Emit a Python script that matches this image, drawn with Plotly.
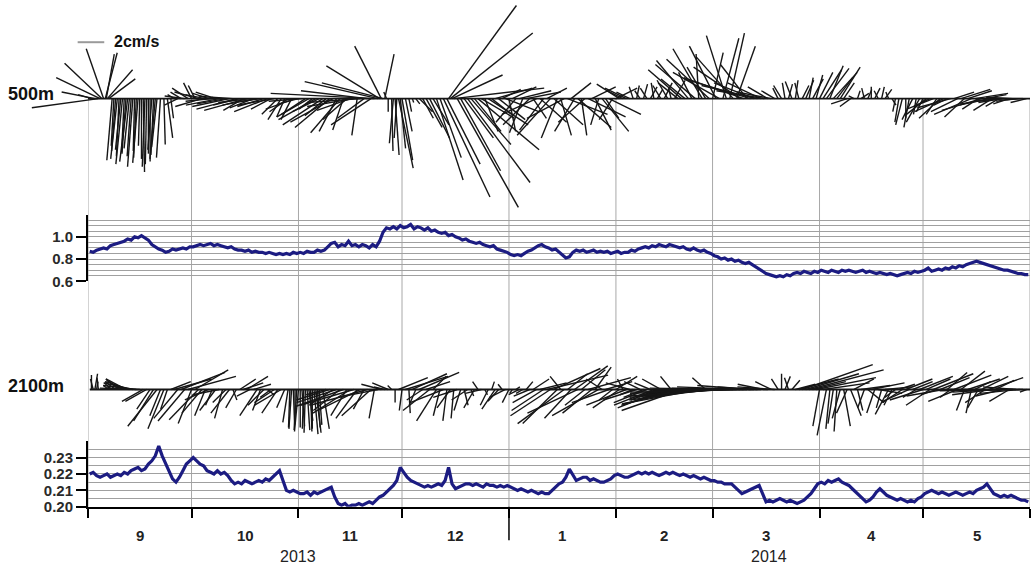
import plotly.graph_objects as go

# ---------------- layout constants (pixels) ----------------
W, H = 1032, 573
X0_PX, X1_PX = 88, 1030          # Sep 1 2013 .. Jun 1 2014
N_DAYS = 273
PX_PER_DAY = (X1_PX - X0_PX) / N_DAYS
PX_PER_CMS = 13.3                # 2 cm/s scale bar = 26.6 px
DAYS_PER_CMS = PX_PER_CMS / PX_PER_DAY

# ---------------- data ----------------
MONTH_STARTS = [0, 30, 61, 91, 122, 153, 181, 212, 242, 273]
MONTH_LABELS = ["9", "10", "11", "12", "1", "2", "3", "4", "5"]
YEAR_LABELS = ["2013", "2014"]
YEAR_SPANS = [(0, 122), (122, 273)]

TS1_TICKS = [0.6, 0.8, 1.0]
TS1_TICKTEXT = ["0.6", "0.8", "1.0"]
TS1_GRID = [0.60, 0.65, 0.70, 0.75, 0.80, 0.85, 0.90, 0.95, 1.00, 1.05, 1.10, 1.15]
TS2_TICKS = [0.20, 0.21, 0.22, 0.23]
TS2_TICKTEXT = ["0.20", "0.21", "0.22", "0.23"]
TS2_GRID = [0.200, 0.205, 0.210, 0.215, 0.220, 0.225, 0.230, 0.235]

# daily series (Sep 1 2013 .. May 31 2014)
TS1 = [
    0.87, 0.86, 0.88, 0.89, 0.90, 0.89, 0.92, 0.93, 0.94, 0.95,
    0.96, 0.98, 0.97, 1.00, 0.99, 1.01, 0.99, 0.97, 0.93, 0.91,
    0.89, 0.88, 0.86, 0.87, 0.89, 0.88, 0.89, 0.90, 0.89, 0.91,
    0.91, 0.92, 0.93, 0.92, 0.93, 0.94, 0.92, 0.93, 0.92, 0.91,
    0.90, 0.91, 0.89, 0.88, 0.88, 0.87, 0.88, 0.86, 0.87, 0.86,
    0.86, 0.85, 0.86, 0.85, 0.84, 0.85, 0.84, 0.85, 0.84, 0.86,
    0.85, 0.86, 0.85, 0.87, 0.86, 0.86, 0.88, 0.87, 0.88, 0.91,
    0.94, 0.95, 0.91, 0.93, 0.92, 0.96, 0.92, 0.93, 0.91, 0.93,
    0.92, 0.90, 0.93, 0.91, 0.96, 1.04, 1.08, 1.07, 1.09, 1.07,
    1.10, 1.08, 1.09, 1.11, 1.07, 1.09, 1.08, 1.06, 1.08, 1.05,
    1.06, 1.04, 1.03, 1.04, 1.01, 1.02, 1.00, 0.99, 0.97, 0.98,
    0.96, 0.95, 0.94, 0.95, 0.93, 0.92, 0.91, 0.92, 0.89, 0.88,
    0.87, 0.86, 0.84, 0.83, 0.84, 0.83, 0.85, 0.87, 0.88, 0.90,
    0.92, 0.93, 0.91, 0.90, 0.88, 0.89, 0.86, 0.83, 0.81, 0.82,
    0.86, 0.88, 0.87, 0.88, 0.86, 0.87, 0.88, 0.86, 0.87, 0.86,
    0.87, 0.85, 0.86, 0.87, 0.85, 0.86, 0.86, 0.88, 0.87, 0.89,
    0.90, 0.91, 0.90, 0.92, 0.91, 0.93, 0.92, 0.91, 0.93, 0.92,
    0.91, 0.90, 0.91, 0.89, 0.88, 0.90, 0.88, 0.87, 0.88, 0.86,
    0.85, 0.83, 0.82, 0.80, 0.81, 0.79, 0.80, 0.78, 0.79, 0.77,
    0.76, 0.77, 0.75, 0.73, 0.71, 0.69, 0.67, 0.66, 0.65, 0.64,
    0.65, 0.64, 0.66, 0.65, 0.67, 0.68, 0.67, 0.69, 0.68, 0.67,
    0.69, 0.68, 0.70, 0.69, 0.68, 0.70, 0.69, 0.68, 0.70, 0.69,
    0.70, 0.69, 0.68, 0.69, 0.70, 0.68, 0.69, 0.68, 0.67, 0.68,
    0.67, 0.66, 0.67, 0.66, 0.65, 0.66, 0.67, 0.68, 0.67, 0.69,
    0.68, 0.69, 0.70, 0.72, 0.69, 0.70, 0.71, 0.70, 0.72, 0.71,
    0.73, 0.72, 0.74, 0.73, 0.75, 0.76, 0.77, 0.78, 0.77, 0.76,
    0.75, 0.74, 0.73, 0.72, 0.71, 0.70, 0.70, 0.69, 0.68, 0.67,
    0.67, 0.66, 0.66,
]

TS2 = [
    0.220, 0.221, 0.219, 0.218, 0.219, 0.220, 0.218, 0.219, 0.220, 0.219,
    0.221, 0.220, 0.222, 0.223, 0.224, 0.222, 0.223, 0.226, 0.228, 0.231,
    0.237, 0.231, 0.226, 0.221, 0.217, 0.215, 0.218, 0.222, 0.226, 0.228,
    0.230, 0.228, 0.226, 0.225, 0.222, 0.221, 0.220, 0.222, 0.220, 0.221,
    0.219, 0.216, 0.214, 0.215, 0.214, 0.216, 0.215, 0.214, 0.215, 0.216,
    0.215, 0.217, 0.216, 0.218, 0.220, 0.222, 0.216, 0.210, 0.209, 0.210,
    0.209, 0.208, 0.208, 0.209, 0.207, 0.209, 0.208, 0.209, 0.210, 0.211,
    0.212, 0.206, 0.202, 0.201, 0.202, 0.200, 0.201, 0.201, 0.202, 0.201,
    0.202, 0.203, 0.202, 0.204, 0.206, 0.207, 0.209, 0.211, 0.213, 0.216,
    0.224, 0.221, 0.218, 0.216, 0.215, 0.214, 0.213, 0.212, 0.213, 0.212,
    0.213, 0.214, 0.213, 0.216, 0.224, 0.214, 0.211, 0.212, 0.213, 0.214,
    0.214, 0.213, 0.214, 0.213, 0.212, 0.214, 0.213, 0.213, 0.212, 0.213,
    0.212, 0.213, 0.212, 0.211, 0.210, 0.211, 0.210, 0.209, 0.210, 0.209,
    0.208, 0.209, 0.208, 0.208, 0.210, 0.212, 0.214, 0.215, 0.218, 0.223,
    0.219, 0.216, 0.217, 0.218, 0.218, 0.216, 0.217, 0.216, 0.215, 0.215,
    0.216, 0.217, 0.219, 0.220, 0.219, 0.218, 0.218, 0.219, 0.220, 0.221,
    0.220, 0.221, 0.220, 0.221, 0.220, 0.219, 0.220, 0.221, 0.220, 0.221,
    0.220, 0.219, 0.220, 0.219, 0.218, 0.219, 0.218, 0.217, 0.218, 0.217,
    0.216, 0.216, 0.215, 0.215, 0.214, 0.214, 0.214, 0.212, 0.210, 0.208,
    0.209, 0.210, 0.211, 0.212, 0.213, 0.208, 0.203, 0.204, 0.203, 0.204,
    0.205, 0.204, 0.203, 0.204, 0.203, 0.202, 0.203, 0.204, 0.206, 0.208,
    0.211, 0.214, 0.215, 0.214, 0.216, 0.215, 0.216, 0.217, 0.215, 0.214,
    0.213, 0.211, 0.209, 0.207, 0.205, 0.203, 0.204, 0.206, 0.209, 0.211,
    0.209, 0.207, 0.206, 0.205, 0.204, 0.205, 0.204, 0.203, 0.204, 0.203,
    0.205, 0.206, 0.208, 0.209, 0.210, 0.209, 0.208, 0.209, 0.208, 0.207,
    0.208, 0.209, 0.208, 0.207, 0.208, 0.209, 0.208, 0.210, 0.211, 0.212,
    0.214, 0.211, 0.208, 0.207, 0.206, 0.207, 0.206, 0.207, 0.206, 0.205,
    0.204, 0.204, 0.203,
]

# current sticks: (day since Sep 1 2013, u east cm/s, v north cm/s)
STICKS_500 = [
    (1.0, -1.0, 0.3), (2.0, -2.5, 0.5), (3.0, -5.0, -0.7), (3.5, -3.3, 1.6), (4.0, -2.8, 2.7),
    (4.5, -1.3, 3.8), (5.0, 0.9, 3.5), (5.3, 0.6, 3.4), (5.6, 1.9, 2.2), (6.0, 2.0, 1.5),
    (7, -0.4, -4.7), (7.5, -0.2, -3.6), (8, -0.3, -4.0), (8.5, -0.5, -4.6), (9, -0.2, -4.4),
    (9.5, -0.4, -3.9), (10, -0.5, -5.0), (10.5, -0.2, -4.1), (11, -0.3, -4.2), (11.5, -0.6, -4.8),
    (12, -0.4, -3.8), (12.5, -0.3, -4.4), (13, -0.4, -5.2), (13.5, -0.1, -4.0), (14, -0.2, -4.5),
    (14.5, -0.4, -4.9), (15, -0.1, -3.6), (15.5, 0.0, -4.6), (16, 0.1, -5.6), (16.5, -0.2, -5.2),
    (17, -0.1, -5.0), (17.5, 0.0, -4.2), (18, 0.0, -4.8), (18.5, -0.3, -3.9), (19, -0.2, -4.3),
    (19.5, -0.4, -4.6), (20, -0.4, -3.7), (21, -0.3, -4.5), (22, 0.1, -3.5), (23, 0.4, -3.0),
    (24, 0.2, -1.5),
    (25, -0.5, 0.3), (26, -1.0, -0.5), (27, -0.8, 0.5), (28, -1.5, 0.2), (29, -1.2, 0.8),
    (30, -0.6, 1.2), (31, -0.5, 1.0), (32, -1.8, 0.5), (33, -2.0, -0.6), (34, -1.5, 0.3),
    (35, -1.2, 0.4), (36, -2.0, -0.2), (37, -1.5, 0.5), (38, -2.5, -0.5), (39, -1.8, 0.2),
    (40, -2.2, -0.4), (41, -2.8, -0.6), (42, -1.6, 0.1), (43, -3.0, -0.8), (44, -2.0, -0.5),
    (45, -1.5, -0.9), (46, -3.2, -0.9), (47, -2.4, -0.3), (48, -1.8, -0.7), (49, -2.6, -0.5),
    (50, -1.4, -0.2), (51, -2.0, -0.6), (52, -2.5, -1.0), (53, -1.5, -0.8), (54, -2.8, -0.5),
    (55, -1.2, -1.2), (56, -1.0, -1.6), (57, -0.6, -1.4), (58, -1.4, -1.0), (59, -0.8, -1.6),
    (60, -2.2, -0.8), (61, -1.5, -0.4), (62, -2.5, -0.2),
    (63, -1.8, -1.2), (64, -2.4, -1.4), (65, -1.0, -0.8), (66, -2.8, -1.6), (67, -2.0, -1.0),
    (68, -3.0, -2.0), (69, -1.6, -1.3), (70, -2.6, -2.2), (71, -3.2, -1.8), (72, -1.3, -2.5),
    (73, -2.2, -2.6), (74, -0.8, -2.4), (75, -1.8, -1.6), (76, -2.5, -0.9), (77, -3.5, -0.6),
    (78, -0.4, -2.8),
    (79, -4.0, -0.3), (80, -2.0, -1.5), (81, -5.0, 0.6), (82, -3.0, -2.0), (83, -7.8, 0.4),
    (84, -5.5, 1.3), (84.5, -4.0, 2.5), (85, -2.0, 4.0), (85.5, -4.6, 1.2), (86, 0.7, 3.4),
    (86.5, -0.2, 0.5),
    (87, 0.0, -1.0), (88, 0.1, -4.0), (88.5, -0.3, -3.4), (89, 0.3, -4.3), (89.5, -0.2, -3.0),
    (90, 1.1, -5.3), (90.5, 0.4, -3.8), (91, 0.8, -4.7), (92, 0.5, -2.5), (93, 0.2, -1.0),
    (94, 0.1, -0.3), (95, 0.3, -0.4), (96, 1.0, -1.0),
    (97, 0.8, -1.5), (98, 1.2, -2.2), (99, 1.5, -3.0), (100, 1.2, -2.0), (101, 2.0, -6.2),
    (102, 1.6, -4.5), (103, 3.5, -7.5), (104, 2.5, -5.0), (104.5, 5.1, 7.1), (105, 6.2, 5.0),
    (105.5, 3.8, 1.8), (106, 6.8, 0.8), (107, 4.6, -8.3), (108, 3.0, -5.5), (109, 2.2, -3.0),
    (110, 4.7, -6.4), (111, 3.0, -3.5), (112, 2.0, -2.5), (113, 4.6, -3.9), (114, 2.5, -1.5),
    (115, 1.0, -2.5), (116, 3.0, -2.0), (117, 1.5, -1.2), (118, 2.8, 0.8),
    (119, 2.0, -1.6), (120, 1.4, 0.7), (121, 2.5, -1.0), (122, 0.5, -2.5), (123, 1.8, 0.9),
    (124, -1.5, -1.8), (125, 2.4, 0.6), (126, -1.0, -2.6), (127, 2.6, 0.5), (128, -2.0, -2.0),
    (129, 1.0, -1.5), (130, -2.6, -1.2), (131, 2.0, -1.8), (132, -1.8, -2.4),
    (133, 1.5, 0.8), (134, -2.5, -2.8), (135, 2.2, -2.0), (136, -1.2, -3.0), (137, 0.8, -2.8),
    (138, -2.8, -1.5), (139, 3.0, -1.2), (140, 1.5, 1.2), (141, -1.5, -2.5), (142, 2.5, -2.2),
    (143, 0.4, -2.8), (144, -2.0, -1.8), (145, 2.8, -1.4), (146, 1.8, 0.9), (147, 1.2, -2.4),
    (148, -0.6, -2.0), (149, 2.0, -2.5), (150, 1.0, -1.5), (151, 2.4, -1.2), (152, -1.0, -1.6),
    (153, 1.6, 0.8), (154, -1.7, 1.1), (155, -1.2, 0.6),
    (156, -1.6, 0.8), (157, -1.0, 0.5), (158, -0.3, 0.9), (159, 0.2, 1.0), (160, -0.4, 0.6),
    (161, 0.3, 1.1), (162, -0.5, 0.8), (163, 0.5, 0.9), (164, -0.2, 1.2), (165, 0.4, 0.7),
    (166, -0.6, 1.0), (167, 0.6, 1.2), (168, -0.8, 1.4), (169, -0.2, 0.8), (170, 0.8, 1.4),
    (171, -1.5, 1.2), (172, -2.5, 2.2), (173, -1.8, 1.5), (174, -2.4, 2.9), (175, -1.0, 2.0),
    (176, -3.0, 2.6), (177, -0.2, 3.4), (178, -2.2, 3.8), (179, -1.4, 2.4), (180, -3.2, 3.0),
    (181, 0.8, 3.5), (182, -2.0, 4.0), (183, -3.5, 2.0), (184, 1.2, 4.6), (185, -1.5, 4.8),
    (186, 1.1, 5.0), (187, -2.8, 3.2), (188, 1.4, 4.0), (189, -3.5, 2.4), (190, -4.5, 1.6),
    (191, -2.0, 2.6), (192, -5.0, 1.5), (193, -3.0, 1.2), (194, -4.2, 1.0), (195, -2.5, 1.2),
    (196, -3.6, 0.6), (197, -1.5, 0.9), (198, -2.6, 0.5), (199, -1.0, 0.6), (200, -0.4, 0.8),
    (201, -0.6, 1.0), (202, -0.2, 1.2), (203, 0.3, 1.1), (204, -0.5, 1.3), (205, 0.2, 1.4),
    (206, -0.3, 1.2), (207, 0.5, 1.0), (208, 0.6, 1.4), (209, 0.3, 1.6), (210, 0.8, 1.5),
    (211, 0.5, 1.8), (212, 1.0, 2.0),
    (213, 1.4, 2.2), (214, 1.7, 2.3), (215, 1.0, 2.5), (216, 1.8, 2.0), (217, 1.2, 1.6),
    (218, 1.5, 2.4), (219, 0.8, 1.2), (220, -1.2, -0.4), (221, -0.8, -0.6), (222, -0.4, 0.2),
    (223, 0.2, 0.6), (224, 0.6, 0.4), (225, -0.2, 0.8), (226, 0.3, 0.7), (227, 0.0, 0.9),
    (228, 0.4, 0.8), (229, -0.3, 0.6), (230, 0.2, 0.9), (231, 0.5, 0.7), (232, -0.2, 0.5),
    (233, 0.3, -0.5), (234, -0.2, -1.0),
    (235, -0.3, -1.8), (236, -0.5, -2.0), (237, 0.0, -1.5), (238, -0.4, -2.2), (239, -0.8, -1.6),
    (240, -0.2, -1.2), (241, -1.0, -1.8), (242, -0.5, -1.0), (243, -1.5, -1.2), (244, -1.2, -0.6),
    (245, -2.0, -0.8), (246, -0.8, -1.2), (247, -1.6, -1.5), (248, -2.2, -1.0), (249, -1.0, -0.5),
    (250, -2.5, -0.7),
    (251, 1.5, 0.5), (252, -2.0, -1.0), (253, 2.2, 0.7), (254, -1.5, -1.4), (255, 1.8, 0.6),
    (256, -2.8, -1.2), (257, 2.5, 0.4), (258, -1.2, -0.8), (259, -3.0, -0.9), (260, 1.6, 0.3),
    (261, -2.2, -0.5), (262, -1.4, -0.9), (263, -2.6, -0.4), (264, -1.0, -0.6), (265, -1.8, -0.3),
    (266, -2.4, -0.2), (267, -1.2, -0.4), (268, -2.0, 0.1), (269, -1.5, -0.2), (270, -1.0, -0.1),
    (271, -1.8, 0.0), (272, -1.2, -0.3),
]

STICKS_2100 = [
    (1.0, 0.0, 1.1), (1.5, -0.2, 0.8), (2.0, 0.2, 1.2), (2.5, 0.1, 0.6), (3.0, -0.1, 0.9),
    (5, 0.3, 0.2), (6, -0.4, 0.3), (7, -0.6, 0.5), (8, -0.8, 0.6), (9, -1.0, 0.8),
    (10, -1.2, 0.7), (11, -1.5, 0.8), (12, -1.8, 0.6), (13, -2.2, 0.5), (14, -2.5, 0.3),
    (15, -3.0, 0.1), (16, -1.6, -0.9), (17, -1.6, -0.9), (18, -1.0, -1.5),
    (19, -1.5, -2.4), (20, -2.2, -2.8), (21, -0.8, -2.0), (22, -1.2, -3.0), (23, -0.5, -1.5),
    (24, 1.5, 0.6), (25, 2.8, 0.8), (26, -1.8, -2.2), (27, 3.3, 1.3), (28, -2.0, -2.4),
    (29, 3.6, 1.0), (30, -1.0, -2.6), (31, 2.5, 1.5), (32, -2.2, -2.3),
    (33, -1.5, -1.8), (34, -0.8, -2.0), (35, -1.8, -0.8), (36, -0.5, -1.2), (37, -1.2, -1.6),
    (38, -2.0, -0.4), (39, -0.6, -2.2), (40, -1.0, -1.0), (41, -1.4, -1.8), (42, 0.3, -0.8),
    (43, -0.8, -1.4), (44, 1.2, 0.8), (45, 1.5, 0.5),
    (46, 1.6, 1.0), (47, -1.0, -0.5), (48, 1.3, 0.4), (49, -1.3, -2.0), (50, -0.6, -1.6),
    (51, -1.2, -1.2), (52, 0.5, -0.4),
    (53, -0.8, -0.6), (54, -1.5, -1.0), (55, -1.2, -1.8), (56, -2.0, -1.2), (57, -0.6, -1.4),
    (58, -0.4, -2.5), (58.5, -0.1, -2.9), (59, -0.2, -3.0), (59.5, 0.1, -2.7), (60, 0.0, -2.6),
    (60.5, -0.2, -3.1), (61, -0.3, -3.2), (61.5, 0.0, -2.9), (62, 0.2, -2.8), (62.5, -0.1, -3.0),
    (63, -0.1, -3.3), (63.5, 0.2, -3.1), (64, 0.3, -2.4), (64.5, 0.1, -3.2), (65, 0.0, -3.0),
    (65.5, 0.3, -3.4), (66, 0.4, -3.3), (66.5, 0.2, -2.9), (67, 0.2, -2.7), (68, 0.5, -3.0),
    (69, -1.5, -0.4), (70, -2.5, -0.8), (71, -1.8, -1.2), (72, -3.0, -1.0), (73, -2.0, -1.6),
    (74, -3.6, -1.3), (75, -1.2, -2.0), (76, -2.8, -1.8), (77, -4.0, -1.2), (78, -1.6, -2.2),
    (79, -3.2, -1.6), (80, -0.8, -1.5), (81, -4.3, -1.2), (82, -2.2, -2.0), (83, -0.4, -2.2),
    (84, -3.0, -0.6), (85, -1.5, 0.4), (86, -0.8, 0.2),
    (87, -1.2, 0.5), (88, -0.3, 0.3), (89, 0.0, -1.0), (90, 2.2, 0.9), (91, -0.2, -1.6),
    (92, 3.2, 1.0), (93, 0.1, -1.8), (94, 2.6, 1.2), (95, -0.5, -1.2), (96, 3.0, 1.3),
    (97, -1.2, -0.8), (98, 1.8, 0.6), (99, -2.0, -1.6), (100, 1.0, 1.0),
    (101, -1.5, -2.4), (102, -0.5, -2.0), (103, -2.5, -1.0), (104, -0.3, -2.4), (105, -1.0, -1.4),
    (106, -0.2, -2.2), (107, -1.8, -0.6), (108, -0.5, -1.6), (109, 0.3, -1.2), (110, -1.2, -0.8),
    (111, 0.2, -0.5), (112, -0.8, -1.4), (113, -0.4, 0.6), (114, -1.2, -0.3), (115, 0.2, -0.4),
    (116, -0.6, -1.2), (117, 0.2, 0.6), (118, -1.0, -1.5), (119, -0.8, -0.9), (120, -0.3, 0.4),
    (121, -1.2, -0.6), (122, -0.5, -1.0), (123, -0.2, -0.3), (124, 0.3, 0.2), (125, -0.8, -0.4),
    (126, -0.5, -0.3), (127, 0.5, 0.6), (128, -1.2, -0.5), (129, 1.2, 0.8), (130, -1.8, -1.0),
    (131, 2.0, 0.5), (132, -2.4, -1.6), (133, 4.6, 1.1), (134, -3.0, -2.0), (135, 3.5, 1.6),
    (136, -2.6, -2.6), (137, -0.8, 1.0), (138, -3.5, -2.6), (139, 1.5, 1.2), (140, -2.0, -2.2),
    (141, 2.5, 1.8), (142, -3.8, -1.8), (143, 1.8, 1.5), (144, -1.5, -1.2), (145, 3.2, 0.9),
    (146, -2.2, -1.8), (147, 1.2, 1.7), (148, -3.5, -2.0), (149, -1.2, 0.8), (150, 2.0, 0.6),
    (151, -2.8, -1.0), (152, -1.0, -0.8), (153, 1.6, 1.0), (154, -2.0, -1.4), (155, -0.4, 0.8),
    (156, -3.0, -1.2), (157, -1.8, 0.5), (158, -1.0, -0.4), (159, -2.5, -0.8), (160, -1.2, 0.6),
    (161, -1.5, -0.6), (162, -2.5, -1.0), (163, -1.2, 0.5), (164, -3.0, -1.2), (165, -2.0, -0.8),
    (166, -1.4, 0.8), (167, -3.5, -1.4), (168, -2.2, -0.6), (169, -0.8, 1.0), (170, -4.0, -1.2),
    (171, -2.8, -0.5), (172, -4.5, -1.6), (173, -3.2, -0.4), (174, -5.0, -1.1), (175, -3.6, -0.6),
    (176, -2.0, -0.3), (177, -5.7, -1.1), (178, -4.2, -0.5), (179, -1.0, 0.9), (180, -6.0, -0.8),
    (181, -4.8, -0.3), (182, -6.5, -0.6), (183, -3.5, -0.2), (184, -7.0, -0.5), (185, -5.5, -0.1),
    (186, -7.5, -0.3), (187, -6.0, 0.0), (188, -8.0, -0.2), (189, -6.8, 0.1), (190, -5.0, 0.2),
    (191, -7.2, 0.0), (192, -4.0, 0.3), (193, -6.2, 0.1), (194, -3.0, 0.2), (195, -5.2, 0.0),
    (196, -2.0, 0.4), (197, -4.0, 0.1), (198, -1.2, 0.6), (199, -2.8, 0.2),
    (200, -0.5, 0.8), (201, 0.0, 1.2), (202, 0.4, 1.0), (203, -0.3, 0.9), (204, 0.6, 0.7),
    (205, 1.5, 0.4), (206, 3.0, 0.8), (207, 5.3, 1.9), (208, 4.0, 1.2), (209, 5.6, 1.5),
    (210, 2.5, 0.6), (211, 4.5, 0.9), (212, -0.5, -2.8), (213, 3.5, 0.5), (214, -0.7, -3.5),
    (215, -0.3, -3.0),
    (216, -0.4, -2.6), (217, -0.2, -3.2), (218, -0.6, -2.2), (219, 0.5, -2.8), (220, -0.8, -1.8),
    (221, 0.8, -2.0), (222, 1.5, 0.8), (223, 0.4, -1.6), (224, 2.2, 0.3), (225, -0.5, -1.4),
    (226, 1.2, -1.0), (227, 2.5, 0.5), (228, -0.6, -1.8), (229, 1.8, -0.3), (230, -0.4, -1.4),
    (231, 2.0, 0.2), (232, -1.0, -1.9), (233, -0.6, -1.2),
    (234, -0.8, -0.6), (235, 1.2, 0.4), (236, -1.5, -1.0), (237, 2.0, 0.8), (238, -2.0, -0.9),
    (239, 1.5, 0.6), (240, -1.0, -0.6), (241, 2.5, 1.0), (242, -2.5, -0.8), (243, 1.8, 0.8),
    (244, -1.8, -1.2), (245, 3.0, 1.2), (246, -1.2, -0.4), (247, 2.2, 0.9), (248, -2.8, -0.5),
    (249, 1.5, 1.3), (250, -0.8, -0.6), (251, 2.8, 1.1), (252, -2.2, -0.9), (253, 1.8, 1.4),
    (254, -0.6, -1.6), (255, 2.4, 0.8), (256, -0.4, -1.8), (257, 1.2, 0.6), (258, -0.8, -1.4),
    (259, 2.0, 1.0), (260, -1.5, -1.0), (261, 2.6, 0.9), (262, -3.0, -0.4), (263, 1.4, 0.7),
    (264, -3.5, -0.2), (265, -2.0, -0.5), (266, -4.5, 0.0), (267, -1.5, -0.9), (268, -5.5, -0.1),
    (269, -2.5, 0.2), (270, -3.0, -0.3), (271, -1.0, 0.0), (272, -0.5, -0.2),
]

SCALE_BAR_CMS = 2.0

# ---------------- helpers ----------------
def py(px):
    return 1 - px / H

def px_x(px):
    return px / W

def stick_xy(sticks):
    xs, ys = [], []
    for t, u, v in sticks:
        xs += [t, t + u * DAYS_PER_CMS, None]
        ys += [0, v, None]
    return xs, ys

FONT = "Liberation Sans, Arial, Helvetica, sans-serif"
STICK_COLOR = "#161616"
LINE_COLOR = "#1c1c82"
GRID_COLOR = "#a0a0a0"

fig = go.Figure()

# sticks 500 m
sx, sy = stick_xy(STICKS_500)
fig.add_trace(go.Scatter(x=sx, y=sy, mode="lines", xaxis="x2", yaxis="y",
                         line=dict(color=STICK_COLOR, width=1.4), hoverinfo="skip", showlegend=False))
fig.add_trace(go.Scatter(x=[0, N_DAYS], y=[0, 0], mode="lines", xaxis="x2", yaxis="y",
                         line=dict(color=STICK_COLOR, width=1.8), hoverinfo="skip", showlegend=False))
# scale bar
fig.add_trace(go.Scatter(x=[-3.0, -3.0 + SCALE_BAR_CMS * DAYS_PER_CMS], y=[4.3, 4.3], mode="lines",
                         xaxis="x2", yaxis="y", line=dict(color="#9a9a9a", width=2),
                         hoverinfo="skip", showlegend=False))

# sticks 2100 m
sx, sy = stick_xy(STICKS_2100)
fig.add_trace(go.Scatter(x=sx, y=sy, mode="lines", xaxis="x3", yaxis="y2",
                         line=dict(color=STICK_COLOR, width=1.4), hoverinfo="skip", showlegend=False))
fig.add_trace(go.Scatter(x=[0.5, N_DAYS], y=[0, 0], mode="lines", xaxis="x3", yaxis="y2",
                         line=dict(color=STICK_COLOR, width=1.8), hoverinfo="skip", showlegend=False))

# time series
days = [i + 0.5 for i in range(len(TS1))]
fig.add_trace(go.Scatter(x=days, y=TS1, mode="lines", xaxis="x", yaxis="y3",
                         line=dict(color=LINE_COLOR, width=3.2), hoverinfo="skip", showlegend=False))
days2 = [i + 0.5 for i in range(len(TS2))]
fig.add_trace(go.Scatter(x=days2, y=TS2, mode="lines", xaxis="x", yaxis="y4",
                         line=dict(color=LINE_COLOR, width=3.2), hoverinfo="skip", showlegend=False))

stick_range_x = [-X0_PX / PX_PER_DAY, (W - X0_PX) / PX_PER_DAY]

tickfont = dict(family=FONT, size=15, color="#2a2a2a", weight="bold")

fig.update_layout(
    width=W, height=H, margin=dict(l=0, r=0, t=0, b=0),
    paper_bgcolor="white", plot_bgcolor="rgba(0,0,0,0)",
    showlegend=False,
    xaxis=dict(domain=[px_x(X0_PX), px_x(X1_PX)], range=[0, N_DAYS], anchor="y4",
               showline=True, linecolor="black", linewidth=2, mirror=False,
               tickmode="array", tickvals=MONTH_STARTS, ticktext=[""] * len(MONTH_STARTS),
               ticks="outside", ticklen=9, tickwidth=1.5, tickcolor="black",
               showgrid=False, zeroline=False),
    xaxis2=dict(domain=[0, 1], range=stick_range_x, anchor="y", visible=False),
    xaxis3=dict(domain=[0, 1], range=stick_range_x, anchor="y2", visible=False),
    yaxis=dict(domain=[py(215), 1.0], range=[-(215 - 100) / PX_PER_CMS, 100 / PX_PER_CMS],
               anchor="x2", visible=False),
    yaxis2=dict(domain=[py(450), py(300)], range=[-(450 - 395) / PX_PER_CMS, (395 - 300) / PX_PER_CMS],
                anchor="x3", visible=False),
    yaxis3=dict(domain=[py(285.3), py(218)], range=[0.6, 0.6 + (285.3 - 218) / 113.0], anchor="x",
                showline=True, linecolor="black", linewidth=2,
                tickmode="array", tickvals=TS1_TICKS, ticktext=TS1_TICKTEXT,
                ticks="outside", ticklen=10, tickwidth=1.5, tickcolor="black", tickfont=tickfont,
                showgrid=False, zeroline=False,
                minor=dict(tickmode="array", tickvals=TS1_GRID, showgrid=True, gridcolor=GRID_COLOR,
                           gridwidth=1, ticks="")),
    yaxis4=dict(domain=[py(514), py(447)], range=[0.2, 0.2 + (514 - 447) / 1666.7], anchor="x",
                showline=True, linecolor="black", linewidth=2,
                tickmode="array", tickvals=TS2_TICKS, ticktext=TS2_TICKTEXT,
                ticks="outside", ticklen=10, tickwidth=1.5, tickcolor="black", tickfont=tickfont,
                showgrid=False, zeroline=False,
                minor=dict(tickmode="array", tickvals=TS2_GRID, showgrid=True, gridcolor=GRID_COLOR,
                           gridwidth=1, ticks="")),
)

shapes = []
for d in MONTH_STARTS:
    shapes.append(dict(type="line", xref="x", yref="paper", x0=d, x1=d, y0=py(514), y1=py(100),
                       line=dict(color="#a8a8a8", width=1), layer="below"))
# long tick at the year boundary
shapes.append(dict(type="line", xref="x", yref="paper", x0=YEAR_SPANS[1][0], x1=YEAR_SPANS[1][0],
                   y0=py(514), y1=py(548), line=dict(color="black", width=1.5)))
fig.update_layout(shapes=shapes)

ann = []
for i, lab in enumerate(MONTH_LABELS):
    mid = (MONTH_STARTS[i] + MONTH_STARTS[i + 1]) / 2
    ann.append(dict(x=mid, xref="x", y=py(543), yref="paper", text=lab, showarrow=False,
                    xanchor="center", yanchor="middle",
                    font=dict(family=FONT, size=15, color="#222", weight="bold")))
for lab, (a, b) in zip(YEAR_LABELS, YEAR_SPANS):
    ann.append(dict(x=(a + b) / 2, xref="x", y=py(564), yref="paper", text=lab, showarrow=False,
                    xanchor="center", yanchor="middle",
                    font=dict(family=FONT, size=16, color="#222")))
ann.append(dict(x=px_x(6), xref="paper", y=py(95), yref="paper", text="500m", showarrow=False,
                xanchor="left", yanchor="middle",
                font=dict(family=FONT, size=18, color="#111", weight="bold")))
ann.append(dict(x=px_x(6), xref="paper", y=py(391), yref="paper", text="2100m", showarrow=False,
                xanchor="left", yanchor="middle",
                font=dict(family=FONT, size=18, color="#111", weight="bold")))
ann.append(dict(x=px_x(112), xref="paper", y=py(42), yref="paper", text="2cm/s", showarrow=False,
                xanchor="left", yanchor="middle",
                font=dict(family=FONT, size=16, color="#111", weight="bold")))
fig.update_layout(annotations=ann)

fig.write_html("out.html")
